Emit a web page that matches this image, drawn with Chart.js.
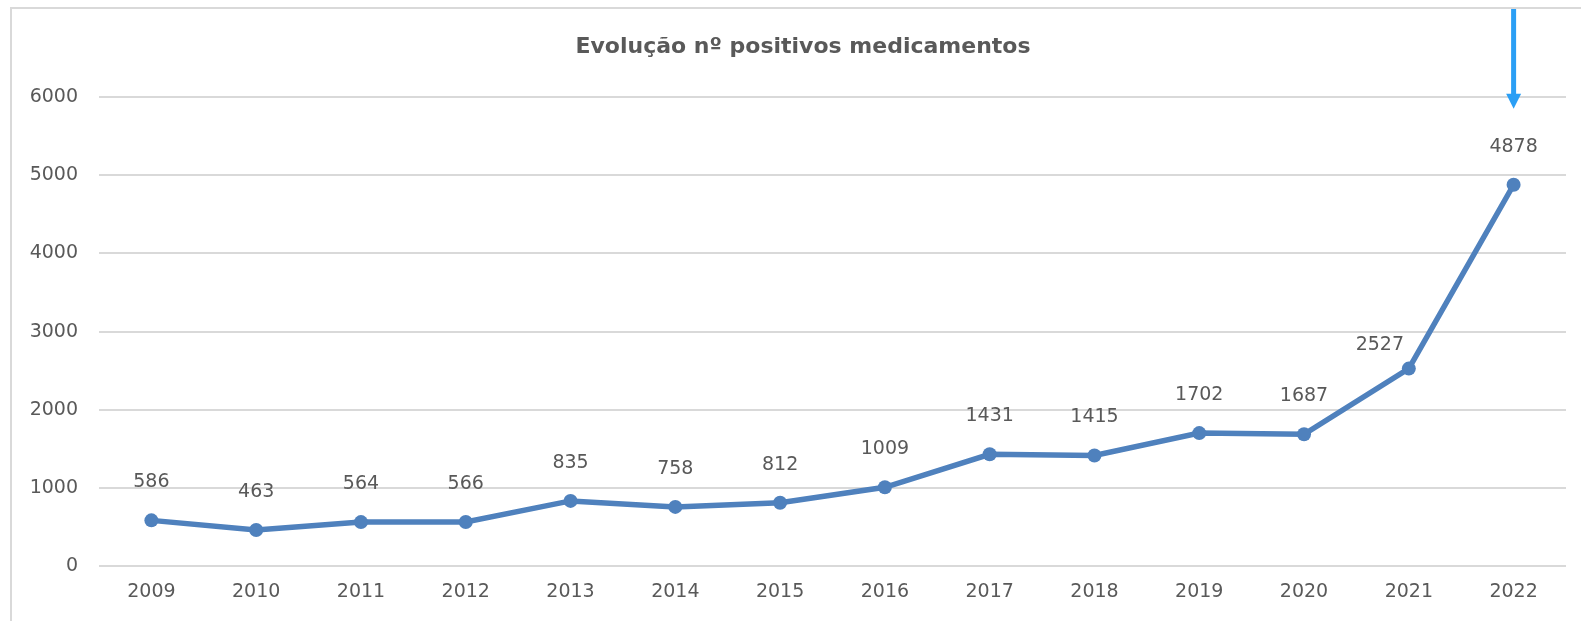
<!DOCTYPE html>
<html>
<head>
<meta charset="utf-8">
<script src="https://cdn.jsdelivr.net/npm/chart.js@4/dist/chart.umd.min.js"></script>
<style>
    html, body { margin: 0; padding: 0; background: #fff; overflow: hidden; width: 1581px; height: 621px; }
    #box {
        position: absolute; left: 10px; top: 7px;
        width: 1598px; height: 640px;
        border: 2px solid #d9d9d9; box-sizing: border-box;
    }
    #chart { position: absolute; left: 0; top: 0; }
</style>
</head>
<body>
<div id="box"><canvas id="chart" width="1594" height="636"></canvas></div>
<script>
// Chart data
const years = ['2009', '2010', '2011', '2012', '2013', '2014', '2015', '2016', '2017', '2018', '2019', '2020', '2021', '2022'];
const positives = [586, 463, 564, 566, 835, 758, 812, 1009, 1431, 1415, 1702, 1687, 2527, 4878];
const yTicks = [0, 1000, 2000, 3000, 4000, 5000, 6000];
const chartTitle = 'Evolução nº positivos medicamentos';

const textColor = '#595959';
const fontFamily = '"DejaVu Sans", "Open Sans", sans-serif';

// title centred on the whole chart box (not on the padded area)
const boxTitle = {
    id: 'boxTitle',
    afterDraw(chart) {
        const ctx = chart.ctx;
        ctx.save();
        ctx.font = 'bold 22px ' + fontFamily;
        ctx.fillStyle = textColor;
        ctx.textAlign = 'center';
        ctx.textBaseline = 'middle';
        ctx.fillText(chartTitle, chart.width / 2 - 6, 38);
        ctx.restore();
    }
};

// value labels above each point
const valueLabels = {
    id: 'valueLabels',
    afterDatasetsDraw(chart) {
        const ctx = chart.ctx;
        const meta = chart.getDatasetMeta(0);
        ctx.save();
        ctx.font = '19px ' + fontFamily;
        ctx.fillStyle = textColor;
        ctx.textAlign = 'center';
        ctx.textBaseline = 'middle';
        meta.data.forEach((pt, i) => {
            let dx = 0, dy = -38;
            // label for 2021 was moved left of the line
            if (i === 12) { dx = -29; dy = -24; }
            ctx.fillText(String(positives[i]), pt.x + dx, pt.y + dy);
        });
        ctx.restore();
    }
};

// blue arrow pointing at the last year
const arrow = {
    id: 'arrow',
    afterDraw(chart) {
        const ctx = chart.ctx;
        const x = chart.scales.x.getPixelForValue(years.length - 1);
        const tip = chart.scales.y.getPixelForValue(5850);
        ctx.save();
        ctx.strokeStyle = '#2b9ff5';
        ctx.fillStyle = '#2b9ff5';
        ctx.lineWidth = 5;
        ctx.beginPath();
        ctx.moveTo(x, -20);
        ctx.lineTo(x, tip - 12);
        ctx.stroke();
        ctx.beginPath();
        ctx.moveTo(x - 7.5, tip - 15);
        ctx.lineTo(x + 7.5, tip - 15);
        ctx.lineTo(x, tip);
        ctx.closePath();
        ctx.fill();
        ctx.restore();
    }
};

new Chart(document.getElementById('chart'), {
    type: 'line',
    data: {
        labels: years,
        datasets: [{
            data: positives,
            borderColor: '#4f81bd',
            backgroundColor: '#4f81bd',
            borderWidth: 5.5,
            pointRadius: 7,
            pointBorderWidth: 0,
            pointBackgroundColor: '#4f81bd',
            tension: 0
        }]
    },
    options: {
        responsive: false,
        animation: false,
        devicePixelRatio: 1,
        layout: {
            padding: { left: 17, right: 40, top: 88, bottom: 28 }
        },
        plugins: {
            legend: { display: false },
            tooltip: { enabled: false },
            title: { display: false }
        },
        scales: {
            y: {
                min: 0,
                max: 6000,
                afterBuildTicks(scale) {
                    scale.ticks = yTicks.map(v => ({ value: v }));
                },
                afterFit(scale) { scale.width = 70; },
                ticks: {
                    color: textColor,
                    padding: 21,
                    font: { family: fontFamily, size: 19 },
                    callback: v => String(v)
                },
                grid: { color: '#d9d9d9', lineWidth: 2, drawTicks: false },
                border: { display: false }
            },
            x: {
                offset: true,
                ticks: {
                    color: textColor,
                    padding: 14,
                    maxRotation: 0,
                    font: { family: fontFamily, size: 19 }
                },
                grid: { display: false, drawTicks: false },
                border: { display: false }
            }
        }
    },
    plugins: [valueLabels, arrow, boxTitle]
});
</script>
</body>
</html>
